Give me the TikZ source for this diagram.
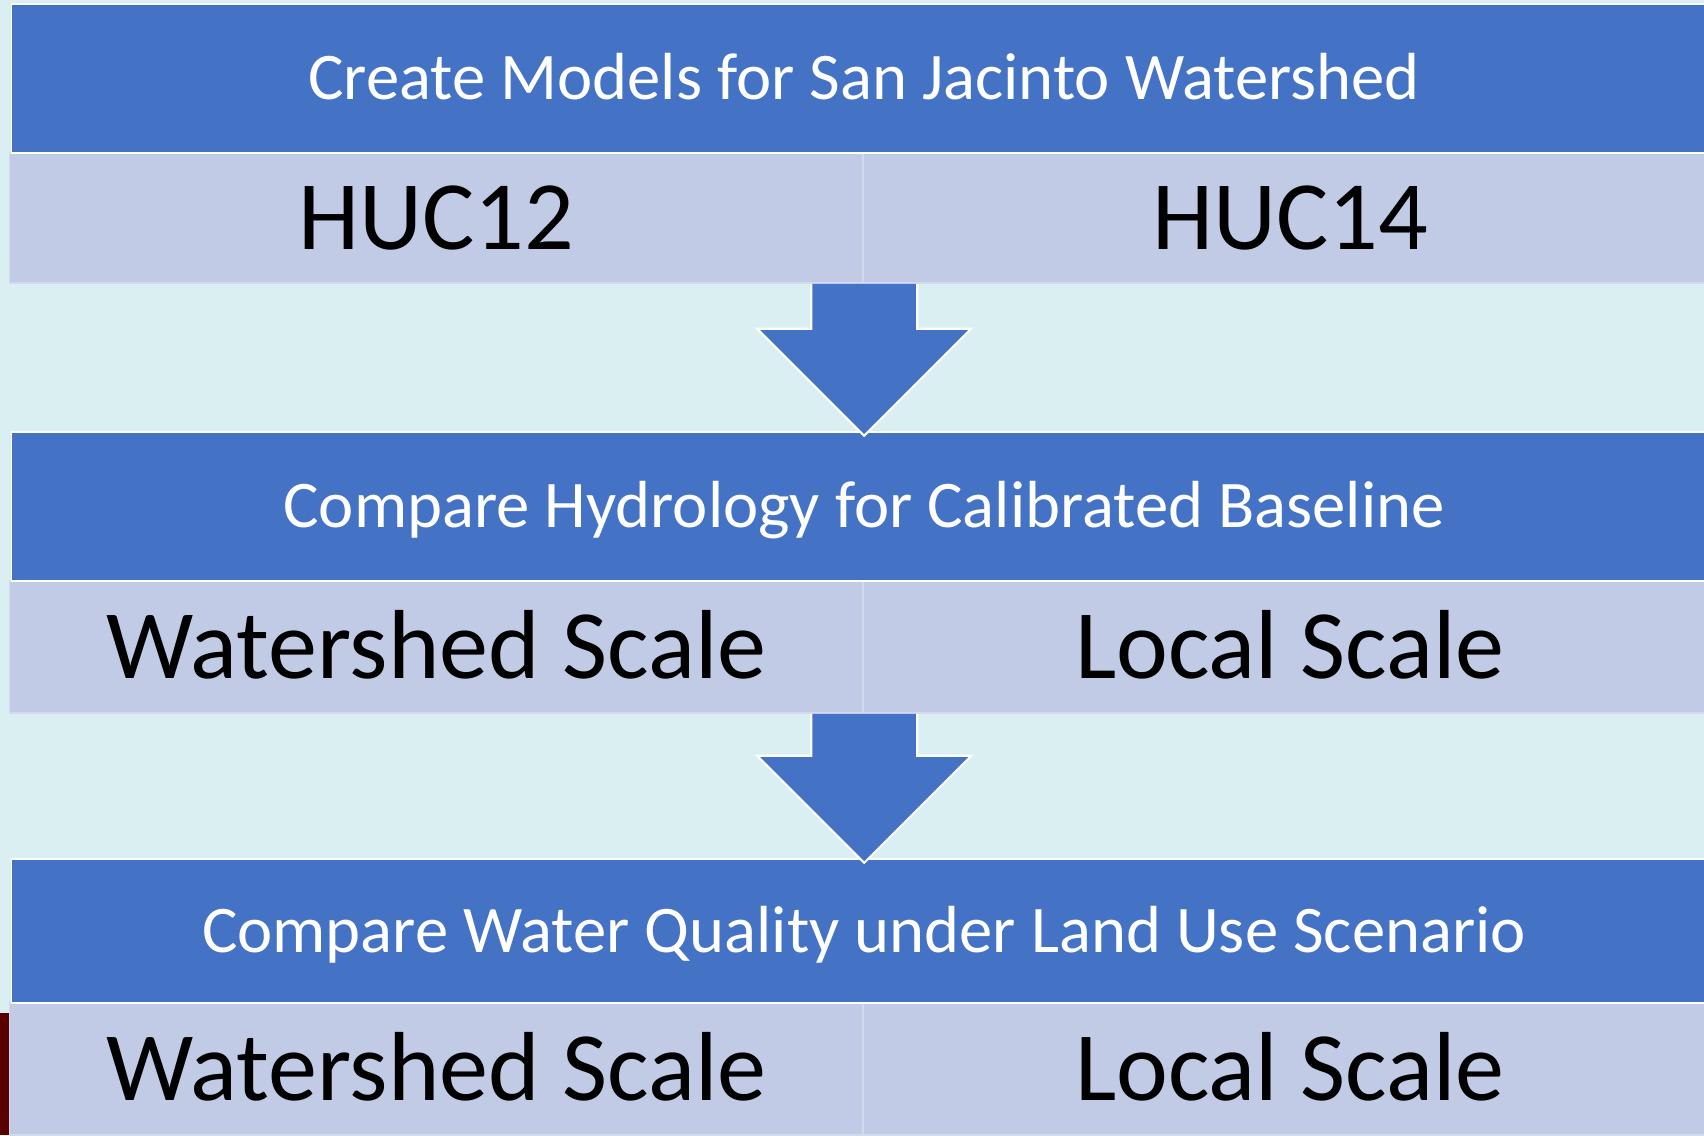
\documentclass[tikz,border=0pt]{standalone}
\usepackage{fontspec}
\setmainfont{Carlito}
\usetikzlibrary{positioning}

\definecolor{hdrblue}{HTML}{4472C4}
\definecolor{cellblue}{HTML}{C1CBE6}
\definecolor{cellline}{HTML}{D4DAEE}
\definecolor{dropbg}{HTML}{DAEFF2}
\definecolor{edgered}{HTML}{5A0000}

\tikzstyle{header}=[rectangle, fill=hdrblue, draw=white, line width=0.5pt, inner sep=0pt, minimum width=17.04cm, text=white, font=\fontsize{18.95}{22}\selectfont, text height=12.2pt, text depth=0pt]
\tikzstyle{cell}=[rectangle, fill=cellblue, draw=cellline, line width=0.4pt, inner sep=0pt, minimum width=8.535cm, text=black, font=\fontsize{27.9}{32}\selectfont, text height=18pt, text depth=0pt]
\tikzstyle{flowarrow}=[fill=hdrblue, draw=white, line width=0.6pt, line join=miter]

\begin{document}
\begin{tikzpicture}[x=0.01cm, y=-0.01cm]
\useasboundingbox (0,0) rectangle (1704,1135);
\clip (0,0) rectangle (1704,1135);
\fill[dropbg] (0,0) rectangle (1704,1135);
\fill[edgered] (0,1013) rectangle (9,1135);

\node[cell, minimum height=1.30cm](huc12) at (436.5,218) {HUC12};
\node[cell, minimum height=1.30cm](huc14) at (1290,218) {HUC14};
\node[header, minimum height=1.49cm](models) at (864,78.5) {Create Models for San Jacinto Watershed};

\node[cell, minimum height=1.32cm](hydrows) at (436.5,647) {Watershed Scale};
\node[cell, minimum height=1.32cm](hydrols) at (1290,647) {Local Scale};
\node[header, minimum height=1.49cm](hydro) at (864,506.5) {Compare Hydrology for Calibrated Baseline};

\node[cell, minimum height=1.32cm](qualws) at (436.5,1069) {Watershed Scale};
\node[cell, minimum height=1.32cm](qualls) at (1290,1069) {Local Scale};
\node[header, minimum height=1.44cm](quality) at (864,931) {Compare Water Quality under Land Use Scenario};

\begin{scope}[shift={(huc12.south east)}]
       \draw[flowarrow] (-53,0) -- (-53,45) -- (-107,45) -- (0,152) -- (107,45) -- (53,45) -- (53,0);
\end{scope}
\begin{scope}[shift={(hydrows.south east)}]
       \draw[flowarrow] (-53,0) -- (-53,42) -- (-107,42) -- (0,149) -- (107,42) -- (53,42) -- (53,0);
\end{scope}
\end{tikzpicture}
\end{document}
